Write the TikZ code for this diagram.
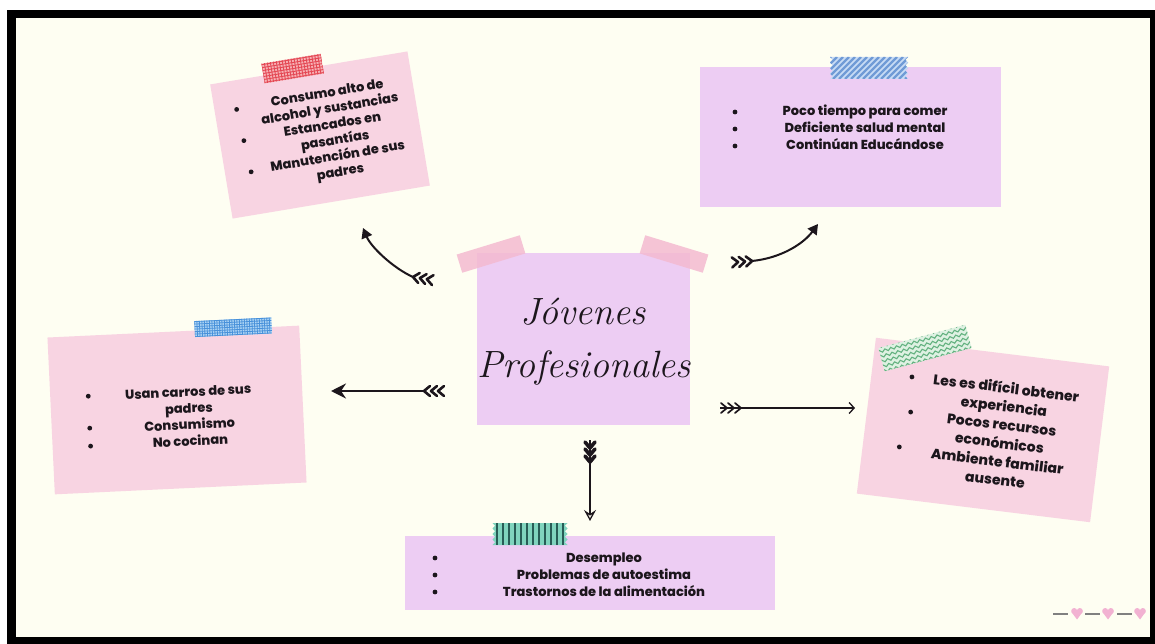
\documentclass[tikz,border=0pt]{standalone}
\usepackage{fontspec}
\newfontfamily\notefont{Poppins}[BoldFont={Poppins ExtraBold}]
\usetikzlibrary{arrows.meta}

\definecolor{cream}{RGB}{254,254,242}
\definecolor{notepink}{RGB}{248,212,226}
\definecolor{notelilac}{RGB}{237,205,243}
\definecolor{tapepink}{RGB}{244,186,208}
\definecolor{ink}{RGB}{28,22,28}
\definecolor{redTapeBg}{RGB}{247,178,182}
\definecolor{redTape}{RGB}{228,72,84}
\definecolor{blueTapeBg}{RGB}{200,220,245}
\definecolor{blueTape}{RGB}{112,155,214}
\definecolor{gridTapeBg}{RGB}{176,214,245}
\definecolor{gridTape}{RGB}{72,145,218}
\definecolor{greenTapeBg}{RGB}{222,241,226}
\definecolor{greenTape}{RGB}{100,178,128}
\definecolor{tealTapeBg}{RGB}{128,212,190}
\definecolor{tealTape}{RGB}{40,92,86}
\definecolor{heartpink}{RGB}{242,178,210}
\definecolor{dashgray}{RGB}{128,128,128}

\tikzset{
  x=1pt, y=-1pt,
  paper/.style={draw=none, inner sep=0pt, outer sep=0pt},
  pinknote/.style={paper, fill=notepink},
  lilacnote/.style={paper, fill=notelilac},
  itemtext/.style={align=center, inner sep=0pt, text=ink},
  listA/.style={itemtext, font=\notefont\bfseries\fontsize{13}{16}\selectfont},
  listB/.style={itemtext, font=\notefont\bfseries\fontsize{13}{17}\selectfont},
  listC/.style={itemtext, font=\notefont\bfseries\fontsize{14}{18.5}\selectfont},
  dot/.style={circle, fill=ink, minimum size=4.8pt, inner sep=0pt},
  tape outline/.style n args={2}{insert path={(-#1,-#2) -- (#1,-#2)
      \foreach \j in {1,2,3,4}{ -- ++(-2.5,#2/4) -- ++(2.5,#2/4)}
      -- (-#1,#2)
      \foreach \j in {1,2,3,4}{ -- ++(2.5,-#2/4) -- ++(-2.5,-#2/4)} -- cycle}},
  fletch/.pic={
    \foreach \k in {0,7,14}{
      \draw[line cap=round, line join=round] (-\k-6,-5) -- (-\k,0) -- (-\k-6,5);
    }
  },
  heart/.pic={
    \fill[heartpink] (-2.8,-2) circle (3);
    \fill[heartpink] (2.8,-2) circle (3);
    \fill[heartpink] (-5.7,-1.2) -- (5.7,-1.2) -- (0,6.5) -- cycle;
  },
}

\begin{document}
\begin{tikzpicture}
\useasboundingbox (0,0) rectangle (1155,644);
\fill[white] (0,0) rectangle (1155,644);
\fill[black] (7,10) rectangle (1155,644);
\fill[cream] (16,18) rectangle (1150,637);

% ---------- top-left note ----------
\begin{scope}[shift={(320,135)}, rotate=9.5, transform shape]
  \node[pinknote, minimum width=200pt, minimum height=136pt] (noteA) at (0,0) {};
  \begin{scope}[shift={(-16,-70)}]
    \fill[redTapeBg] (-30,-10) rectangle (30,10);
    \begin{scope}
      \clip (-30,-10) rectangle (30,10);
      \foreach \t in {-30,-27,...,30} \draw[redTape, line width=0.9pt] (\t,-10) -- (\t,10);
      \foreach \t in {-9,-6,...,9} \draw[redTape, line width=0.9pt] (-30,\t) -- (30,\t);
    \end{scope}
  \end{scope}
  \node[listA] (textA) at (14,1) {Consumo alto de\\alcohol y sustancias\\Estancados en\\pasantías\\Manutención de sus\\padres};
  \node[dot] (dotA1) at (-78,-39) {};
  \node[dot] (dotA2) at (-76,-7) {};
  \node[dot] (dotA3) at (-74,25) {};
\end{scope}

% ---------- top-right note ----------
\node[lilacnote, minimum width=301pt, minimum height=140pt] (noteB) at (850.5,137) {};
\begin{scope}[shift={(869,68)}]
  \fill[blueTapeBg, tape outline={39}{11}];
  \begin{scope}
    \clip[tape outline={39}{11}];
    \foreach \t in {-66,-60,...,42} \draw[blueTape, line width=2.2pt] (\t,11) -- (\t+22,-11);
  \end{scope}
\end{scope}
\node[listB] (textB) at (865,127) {Poco tiempo para comer\\Deficiente salud mental\\Continúan Educándose};
\node[dot] (dotB1) at (735,112) {};
\node[dot] (dotB2) at (735,129) {};
\node[dot] (dotB3) at (735,146) {};

% ---------- centre note ----------
\node[lilacnote, minimum width=213pt, minimum height=172pt] (centre) at (583.5,339) {};
\node[paper, fill=tapepink, opacity=0.85, minimum width=66pt, minimum height=19pt, rotate=17] (tapeL) at (491,254) {};
\node[paper, fill=tapepink, opacity=0.85, minimum width=66pt, minimum height=19pt, rotate=-17] (tapeR) at (674,254) {};
\node[text=ink, font=\itshape\fontsize{38}{38}\selectfont, inner sep=0pt] (title1) at (583,312) {Jóvenes};
\node[text=ink, font=\itshape\fontsize{38}{38}\selectfont, inner sep=0pt] (title2) at (584,368) {Profesionales};

% ---------- left note ----------
\begin{scope}[shift={(177,410)}, rotate=2.7, transform shape]
  \node[pinknote, minimum width=252pt, minimum height=157pt] (noteC) at (0,0) {};
  \begin{scope}[shift={(60,-80)}]
    \fill[gridTapeBg] (-38.5,-8) rectangle (38.5,8);
    \begin{scope}
      \clip (-38.5,-8) rectangle (38.5,8);
      \foreach \t in {-38.5,-36,...,38.5} \draw[gridTape, line width=0.8pt] (\t,-8) -- (\t,8);
      \foreach \t in {-7.5,-5,...,7.5} \draw[gridTape, line width=0.8pt] (-38.5,\t) -- (38.5,\t);
    \end{scope}
  \end{scope}
  \node[listA, font=\notefont\bfseries\fontsize{13}{16.4}\selectfont] (textC) at (12,7) {Usan carros de sus\\padres\\Consumismo\\No cocinan};
  \node[dot] (dotC1) at (-88,-18) {};
  \node[dot] (dotC2) at (-88,14) {};
  \node[dot] (dotC3) at (-88,32) {};
\end{scope}

% ---------- right note ----------
\begin{scope}[shift={(983,430)}, rotate=-7, transform shape]
  \node[pinknote, minimum width=235pt, minimum height=157pt] (noteD) at (0,0) {};
  \begin{scope}[shift={(-67.6,-74.3)}, rotate=22]
    \fill[greenTapeBg] (-45,-12) rectangle (45,12);
    \begin{scope}
      \clip (-45,-12) rectangle (45,12);
      \foreach \r in {-12,-7,...,13}
        \draw[greenTape, line width=1.1pt] (-48,\r) \foreach \j in {1,...,16}{ -- ++(3,-2.5) -- ++(3,2.5)};
    \end{scope}
  \end{scope}
  \node[listC] (textD) at (18,1) {Les es difícil obtener\\experiencia\\Pocos recursos\\económicos\\Ambiente familiar\\ausente};
  \node[dot] (dotD1) at (-77,-44) {};
  \node[dot] (dotD2) at (-74,-9) {};
  \node[dot] (dotD3) at (-81,27) {};
\end{scope}

% ---------- bottom note ----------
\node[lilacnote, minimum width=370pt, minimum height=74pt] (noteE) at (590,573) {};
\begin{scope}[shift={(530,534)}]
  \fill[tealTapeBg, tape outline={37.5}{11}];
  \begin{scope}
    \clip[tape outline={37.5}{11}];
    \foreach \t in {-33,-27,...,33} \draw[tealTape, line width=1.1pt] (\t,-11) -- (\t,11);
  \end{scope}
\end{scope}
\node[listB] (textE) at (604,575) {Desempleo\\Problemas de autoestima\\Trastornos de la alimentación};
\node[dot] (dotE1) at (435,558) {};
\node[dot] (dotE2) at (435,575) {};
\node[dot] (dotE3) at (435,592) {};

% ---------- connectors ----------
\coordinate (tlTail) at (413,277);
\coordinate (tlTip) at (363,228);
\draw[ink, line width=2pt, -{Triangle[length=10pt,width=11pt]}]
  (tlTail) .. controls (393,268) and (371,247) .. (tlTip);
\pic[ink, line width=2.6pt, rotate=171] at (tlTail) {fletch};

\coordinate (trTail) at (752,261);
\coordinate (trTip) at (818,224);
\draw[ink, line width=2pt, -{Triangle[length=10pt,width=11pt]}]
  (trTail) .. controls (782,258) and (804,243) .. (trTip);
\pic[ink, line width=2.6pt, rotate=4] at (trTail) {fletch};

\coordinate (lTail) at (424,391);
\coordinate (lTip) at (331,391);
\draw[ink, line width=2.4pt, -{Stealth[length=15pt,width=15pt,inset=5pt]}] (lTail) -- (lTip);
\pic[ink, line width=2.6pt, rotate=180] at (lTail) {fletch};

\coordinate (rTail) at (720,408);
\coordinate (rTip) at (855,408);
\draw[ink, line width=1.3pt, -{Straight Barb[length=5pt,width=11pt]}] (rTail) -- (rTip);
\pic[ink, line width=1.7pt, rotate=0] at (741,408) {fletch};

\coordinate (dTail) at (590,440);
\coordinate (dTip) at (590,521);
\draw[ink, line width=1.3pt, -{Stealth[open,length=11pt,width=12pt,inset=4pt]}] (dTail) -- (dTip);
\pic[ink, line width=3.6pt, rotate=-90] at (590,462) {fletch};

% ---------- hearts ----------
\foreach \hx in {1077,1108,1140} \pic at (\hx,613) {heart};
\foreach \dx in {1053,1085,1117} \draw[dashgray, line width=1.4pt] (\dx,614) -- ++(15,0);
\end{tikzpicture}
\end{document}
